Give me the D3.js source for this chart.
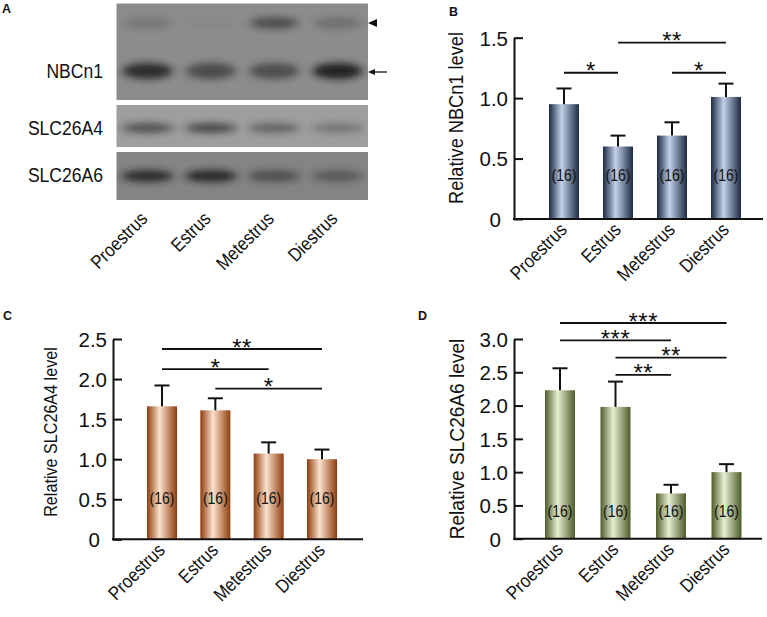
<!DOCTYPE html>
<html><head><meta charset="utf-8">
<script src="https://cdn.jsdelivr.net/npm/d3@7"></script>
<style>
body{margin:0;background:#fff}
svg{display:block}
text{font-family:"Liberation Sans",Arial,Helvetica,sans-serif;fill:#111}
</style>
</head><body>
<svg id="fig" width="767" height="617"></svg>
<script>
// ---------------- data ----------------
const categories = ["Proestrus", "Estrus", "Metestrus", "Diestrus"];
const sampleN = [16, 16, 16, 16];

const nbcn1Mean = [0.95, 0.60, 0.69, 1.01];
const nbcn1Err  = [0.13, 0.09, 0.11, 0.11];
const slc26a4Mean = [1.66, 1.61, 1.07, 1.00];
const slc26a4Err  = [0.26, 0.15, 0.14, 0.12];
const slc26a6Mean = [2.23, 1.98, 0.68, 1.00];
const slc26a6Err  = [0.33, 0.38, 0.13, 0.12];

const ticksB = [0, 0.5, 1.0, 1.5];
const ticksC = [0, 0.5, 1.0, 1.5, 2.0, 2.5];
const ticksD = [0, 0.5, 1.0, 1.5, 2.0, 2.5, 3.0];

// significance brackets: from, to, label, height (data units)
const sigB = [
  {from: "Proestrus", to: "Estrus",   label: "*",  y: 1.21},
  {from: "Estrus",    to: "Diestrus", label: "**", y: 1.46},
  {from: "Metestrus", to: "Diestrus", label: "*",  y: 1.21}
];
const sigC = [
  {from: "Proestrus", to: "Diestrus",  label: "**", y: 2.375},
  {from: "Proestrus", to: "Metestrus", label: "*",  y: 2.125},
  {from: "Estrus",    to: "Diestrus",  label: "*",  y: 1.88}
];
const sigD = [
  {from: "Proestrus", to: "Diestrus",  label: "***", y: 3.24},
  {from: "Proestrus", to: "Metestrus", label: "***", y: 2.98},
  {from: "Estrus",    to: "Diestrus",  label: "**",  y: 2.72},
  {from: "Estrus",    to: "Metestrus", label: "**",  y: 2.46}
];

// Western blot band darkness per lane (0..1)
const blotNames = ["NBCn1", "SLC26A4", "SLC26A6"];
const nbcn1UpperBand = [0.18, 0.04, 0.55, 0.25];
const nbcn1LowerBand = [0.85, 0.58, 0.55, 0.95];
const slc26a4Band = [0.6, 0.65, 0.45, 0.3];
const slc26a6Band = [0.85, 0.9, 0.5, 0.4];

// ---------------- drawing ----------------
const svg = d3.select("#fig");
const defs = svg.append("defs");
const FONT = '"Liberation Sans",Arial,Helvetica,sans-serif';

function grad(id, dark, light) {
  const g = defs.append("linearGradient").attr("id", id)
    .attr("x1", "0%").attr("x2", "100%").attr("y1", "0%").attr("y2", "0%");
  g.append("stop").attr("offset", "0%").attr("stop-color", dark);
  g.append("stop").attr("offset", "42%").attr("stop-color", light);
  g.append("stop").attr("offset", "100%").attr("stop-color", dark);
}
grad("gB", "#1b2a43", "#c2d1e7");
grad("gC", "#8f3d0d", "#fbe2cd");
grad("gD", "#4c5d29", "#e7efd3");

const blur = defs.append("filter").attr("id", "blur")
  .attr("x", "-50%").attr("y", "-100%").attr("width", "200%").attr("height", "300%");
blur.append("feGaussianBlur").attr("stdDeviation", "4.5 3.5");

// narrow-text helper
function ntext(sel, x, y, rot, k, size, txt, anchor) {
  return sel.append("text")
    .attr("transform", `translate(${x},${y}) rotate(${rot}) scale(${k},1)`)
    .attr("text-anchor", anchor || "start").attr("font-size", size).text(txt);
}

// panel letters
[["A", 2, 13], ["B", 449, 16], ["C", 3, 320], ["D", 418, 320]].forEach(([t, x, y]) => {
  svg.append("text").attr("x", x).attr("y", y).attr("font-size", 12.5)
    .attr("font-weight", "bold").text(t);
});

// ---------- Panel A: blot ----------
const lane = d3.scalePoint().domain(categories).range([147.5, 337.5]);
const blots = [
  {name: blotNames[0], y0: 3.5, y1: 100, bg: "#8c8c8c", bands: [{vals: nbcn1UpperBand, cy: 23, rx: 24, ry: 6}, {vals: nbcn1LowerBand, cy: 71, rx: 25, ry: 8}]},
  {name: blotNames[1], y0: 105, y1: 147, bg: "#9e9e9e", bands: [{vals: slc26a4Band, cy: 128, rx: 26, ry: 5}]},
  {name: blotNames[2], y0: 152, y1: 200, bg: "#848484", bands: [{vals: slc26a6Band, cy: 176, rx: 26, ry: 6}]}
];
const labelY = [78, 135, 182];
blots.forEach((b, i) => {
  const g = svg.append("g");
  g.append("rect").attr("x", 116.5).attr("y", b.y0).attr("width", 251.5)
    .attr("height", b.y1 - b.y0).attr("fill", b.bg);
  const clipId = "clip" + i;
  defs.append("clipPath").attr("id", clipId).append("rect")
    .attr("x", 116.5).attr("y", b.y0).attr("width", 251.5).attr("height", b.y1 - b.y0);
  const bg = g.append("g").attr("clip-path", `url(#${clipId})`);
  b.bands.forEach(band => {
    bg.selectAll(null).data(categories).enter().append("ellipse")
      .attr("cx", d => lane(d)).attr("cy", band.cy)
      .attr("rx", band.rx).attr("ry", band.ry)
      .attr("fill", "#1a1a1a")
      .attr("opacity", (d, j) => band.vals[j])
      .attr("filter", "url(#blur)");
  });
  ntext(svg, 103, labelY[i], 0, 0.9, 19.5, b.name, "end");
});
// arrowhead and arrow
svg.append("path").attr("d", "M368,23 L377,19 L377,27 Z").attr("fill", "#111");
svg.append("line").attr("x1", 372).attr("x2", 387).attr("y1", 72).attr("y2", 72)
  .attr("stroke", "#111").attr("stroke-width", 1.3);
svg.append("path").attr("d", "M368,72 L375,69 L375,75 Z").attr("fill", "#111");

const laneLabels = svg.append("g");
categories.forEach(d => ntext(laneLabels, lane(d) + 1, 220, -45, 0.87, 19, d, "end"));

// ---------- bar chart panels ----------
function barPanel(o) {
  const g = svg.append("g");
  const y = d3.scaleLinear().domain(o.domain).range([o.y0, o.yTop]);
  const x = d3.scalePoint().domain(categories).range(o.centers);
  const bw = 30;

  // bars
  g.selectAll("rect.bar").data(categories).enter().append("rect")
    .attr("class", "bar")
    .attr("x", d => x(d) - bw / 2).attr("width", bw)
    .attr("y", (d, i) => y(o.mean[i])).attr("height", (d, i) => y(0) - y(o.mean[i]))
    .attr("fill", `url(#${o.grad})`);

  // error bars
  g.selectAll("line.err").data(categories).enter().append("line")
    .attr("x1", d => x(d)).attr("x2", d => x(d))
    .attr("y1", (d, i) => y(o.mean[i])).attr("y2", (d, i) => y(o.mean[i] + o.err[i]))
    .attr("stroke", "#111").attr("stroke-width", 2);
  g.selectAll("line.cap").data(categories).enter().append("line")
    .attr("x1", d => x(d) - 7.5).attr("x2", d => x(d) + 7.5)
    .attr("y1", (d, i) => y(o.mean[i] + o.err[i])).attr("y2", (d, i) => y(o.mean[i] + o.err[i]))
    .attr("stroke", "#111").attr("stroke-width", 2);

  // n labels
  categories.forEach((d, i) => {
    ntext(g, x(d), y(o.nY) + 6, 0, 0.85, 16.5, `(${sampleN[i]})`, "middle").attr("fill", "#1a1a1a");
  });

  // y axis
  const ax = d3.axisLeft(y).tickValues(o.ticks).tickSizeInner(-9).tickSizeOuter(0)
    .tickPadding(7).tickFormat(v => v === 0 ? "0" : d3.format(".1f")(v));
  const ag = g.append("g").attr("transform", `translate(${o.axisX},0)`).call(ax);
  ag.select(".domain").attr("stroke", "#111").attr("stroke-width", 2);
  ag.selectAll(".tick line").attr("stroke", "#111").attr("stroke-width", 2);
  ag.selectAll(".tick text").attr("font-size", 20.5).attr("font-family", FONT).attr("fill", "#111")
    .attr("dy", "0.36em")
    .attr("x", v => v === 0 ? -13 : -6);

  // x axis line
  g.append("line").attr("x1", o.axisX - 1).attr("x2", o.xEnd).attr("y1", o.y0).attr("y2", o.y0)
    .attr("stroke", "#111").attr("stroke-width", 2);

  // x labels
  categories.forEach(d => ntext(g, x(d) + 4, o.y0 + 12, -45, 0.87, 19, d, "end"));

  // y label
  ntext(g, o.labelX, o.labelY, -90, o.labelK, o.labelSize, o.label, "middle");

  // significance
  o.sig.forEach(s => {
    const yy = y(s.y);
    g.append("line").attr("x1", x(s.from)).attr("x2", x(s.to)).attr("y1", yy).attr("y2", yy)
      .attr("stroke", "#111").attr("stroke-width", 1.8);
    g.append("text").attr("x", (x(s.from) + x(s.to)) / 2).attr("y", yy + 6.5)
      .attr("text-anchor", "middle").attr("font-size", 24).attr("fill", "#222")
      .attr("letter-spacing", 0.5).text(s.label);
  });
}

barPanel({mean: nbcn1Mean, err: nbcn1Err, ticks: ticksB, domain: [0, 1.5], grad: "gB",
  axisX: 514, y0: 219, yTop: 37.7, xEnd: 763, centers: [564, 726], nY: 0.36,
  label: "Relative NBCn1 level", labelX: 463, labelY: 118, labelSize: 20, labelK: 0.91, sig: sigB});
barPanel({mean: slc26a4Mean, err: slc26a4Err, ticks: ticksC, domain: [0, 2.5], grad: "gC",
  axisX: 113, y0: 539.3, yTop: 339, xEnd: 363, centers: [162, 322], nY: 0.52,
  label: "Relative SLC26A4 level", labelX: 57, labelY: 432, labelSize: 19, labelK: 0.85, sig: sigC});
barPanel({mean: slc26a6Mean, err: slc26a6Err, ticks: ticksD, domain: [0, 3], grad: "gD",
  axisX: 514, y0: 538.7, yTop: 339, xEnd: 762, centers: [560, 726.5], nY: 0.42,
  label: "Relative SLC26A6 level", labelX: 464, labelY: 439, labelSize: 21, labelK: 0.91, sig: sigD});
</script>
</body></html>
